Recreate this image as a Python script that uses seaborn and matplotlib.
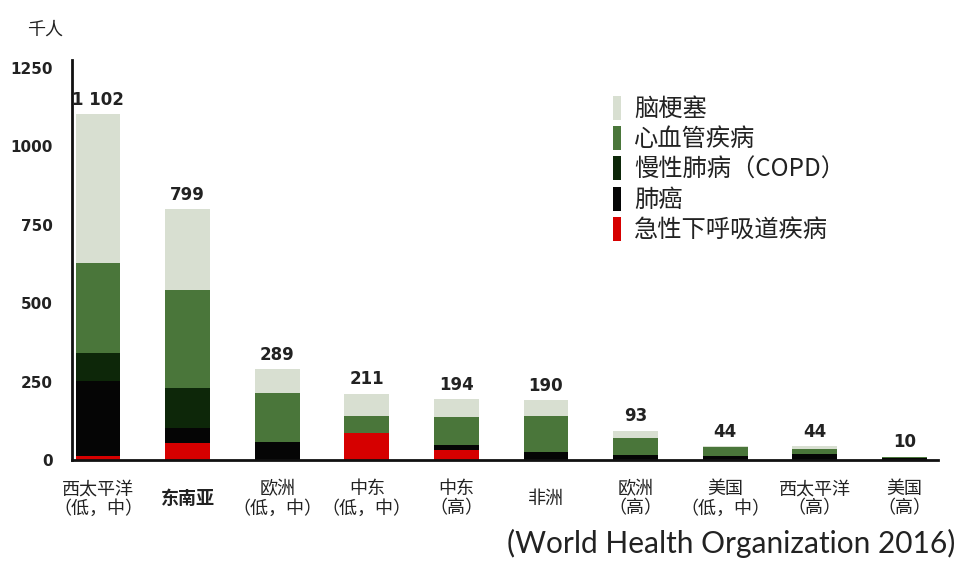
import numpy as np
import pandas as pd
import matplotlib
matplotlib.use("Agg")
import matplotlib.pyplot as plt
from matplotlib.patches import Patch
import seaborn as sns

# ---------------- data ----------------
categories = ["西太平洋\n（低，中）", "东南亚", "欧洲\n（低，中）", "中东\n（低，中）", "中东\n（高）",
              "非洲", "欧洲\n（高）", "美国\n（低，中）", "西太平洋\n（高）", "美国\n（高）"]
total_labels = ["1 102", "799", "289", "211", "194", "190", "93", "44", "44", "10"]
totals = [1102, 799, 289, 211, 194, 190, 93, 44, 44, 10]

# stacked segments, bottom -> top
acute_lri = [12, 54, 0, 85, 32, 0, 0, 0, 0, 0]          # 急性下呼吸道疾病
lung_cancer = [240, 47, 57, 0, 15, 26, 16, 14, 20, 5]    # 肺癌
copd = [88, 130, 0, 0, 0, 0, 0, 0, 0, 0]                 # 慢性肺病（COPD）
cardio = [287, 310, 155, 54, 89, 113, 53, 26, 14, 3]     # 心血管疾病
stroke = [475, 258, 77, 72, 58, 51, 24, 4, 10, 2]        # 脑梗塞

series_names = ["急性下呼吸道疾病", "肺癌", "慢性肺病（COPD）", "心血管疾病", "脑梗塞"]
series_vals = [acute_lri, lung_cancer, copd, cardio, stroke]
series_colors = ["#d60000", "#050505", "#0d2709", "#4a763a", "#d8dfd1"]

yticks = [0, 250, 500, 750, 1000, 1250]

# ---------------- style ----------------
sns.set_style("white")
plt.rcParams["font.family"] = ["Noto Sans CJK SC", "DejaVu Sans"]

fig = plt.figure(figsize=(9.7, 5.62), dpi=100)
ax = fig.add_axes([72 / 970, 1 - 460 / 562, (938 - 72) / 970, 400 / 562])

df = pd.DataFrame({n: v for n, v in zip(series_names, series_vals)}, index=categories)
cum = df.cumsum(axis=1)

# draw from top layer (largest cumulative) down to bottom
for name, col in reversed(list(zip(series_names, series_colors))):
    sns.barplot(x=categories, y=cum[name].values, order=categories, color=col,
                saturation=1, width=0.5, errorbar=None, ax=ax, linewidth=0)

ax.set_xlim(-0.29, 9.375)
ax.set_ylim(0, 1275)
ax.set_yticks(yticks)
ax.set_yticklabels([str(t) for t in yticks], family="DejaVu Sans", fontweight="bold",
                   fontsize=11, color="#222222")
ax.tick_params(axis="y", length=0, pad=14)
ax.tick_params(axis="x", length=0, pad=28, labelsize=13, colors="#222222")
for lbl in ax.get_xticklabels():
    lbl.set_verticalalignment("center")
    lbl.set_linespacing(1.08)
    if lbl.get_text() == "东南亚":
        lbl.set_fontweight("bold")

for s in ["top", "right"]:
    ax.spines[s].set_visible(False)
for s in ["left", "bottom"]:
    ax.spines[s].set_color("#111111")
    ax.spines[s].set_linewidth(2)
ax.set_xlabel("")
ax.set_ylabel("")

# total labels
for i, (t, lab) in enumerate(zip(totals, total_labels)):
    ax.annotate(lab, xy=(i, t), xytext=(0, 4), textcoords="offset points",
                ha="center", va="bottom", family="DejaVu Sans", fontweight="bold",
                fontsize=12, color="#222222")

# legend (top to bottom: stroke ... acute)
handles = [Patch(facecolor=c, edgecolor="none") for c in reversed(series_colors)]
leg = ax.legend(handles, list(reversed(series_names)), loc="upper left",
                bbox_to_anchor=(0.625, 0.91), frameon=False, fontsize=17.5,
                handlelength=0.3, handleheight=1.15, handletextpad=0.55,
                labelspacing=0.16, borderpad=0, borderaxespad=0)
for txt in leg.get_texts():
    txt.set_color("#222222")

fig.text(45 / 970, 1 - 30 / 562, "千人", ha="center", va="center", fontsize=13, color="#222222")
fig.text(955 / 970, 1 - 543 / 562, "(World Health Organization 2016)", ha="right", va="center",
         fontsize=21.5, family="Lato", color="#222222")

fig.savefig("out.png", dpi=100)
